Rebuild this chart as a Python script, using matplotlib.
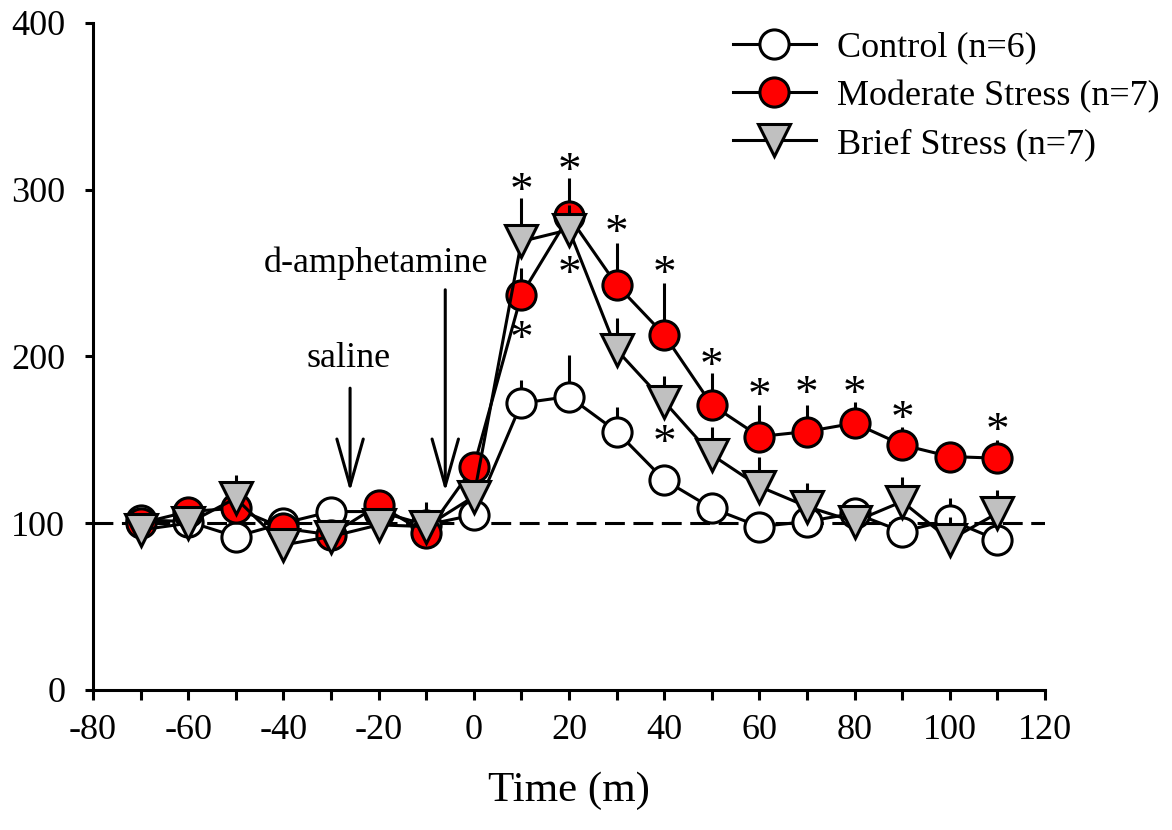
import numpy as np
import matplotlib
matplotlib.use("Agg")
import matplotlib.pyplot as plt

plt.rcParams['font.family'] = ['Liberation Serif', 'DejaVu Serif']
plt.rcParams['axes.unicode_minus'] = False

# time relative to d-amphetamine injection (min)
time = [-70, -60, -50, -40, -30, -20, -10, 0, 10, 20, 30, 40, 50, 60, 70, 80, 90, 100, 110]

# % baseline
control = [102, 101, 92, 100, 107, 107, 99, 105, 172, 176, 155, 126, 109, 98, 101, 106, 95, 102, 90]
moderate = [100, 107, 109, 97, 93, 111, 94, 134, 237, 284, 243, 213, 171, 152, 155, 160, 147, 140, 139]
brief = [96, 100, 115, 87, 92, 99, 98, 116, 269, 276, 204, 173, 141, 122, 110, 101, 113, 90, 106]

# upper error bars only
control_err = [5, 5, 5, 5, 6, 5, 5, 6, 14, 25, 15, 8, 6, 6, 6, 9, 6, 13, 6]
moderate_err = [6, 6, 8, 6, 5, 6, 6, 8, 16, 23, 25, 31, 19, 19, 16, 13, 11, 8, 11]
brief_err = [6, 6, 14, 6, 6, 8, 15, 10, 26, 15, 19, 15, 17, 18, 14, 8, 15, 14, 14]

# significance asterisks
ast_x = [10, 10, 20, 20, 30, 40, 40, 50, 60, 70, 80, 90, 110]
ast_y = [304, 215, 316, 254, 279, 254, 153, 199, 181, 182, 182, 167, 160]

fig = plt.figure(figsize=(11.72, 8.3), dpi=100)
ax = fig.add_axes([0.0794, 0.1687, 0.8122, 0.8036])

ax.plot([-80, 120], [100, 100], color='black', lw=2.2, ls=(0, (6.5, 2.8)), zorder=1)

series = [
    (control, control_err, 'o', 'white', 21, 'Control (n=6)'),
    (moderate, moderate_err, 'o', '#ff0000', 21, 'Moderate Stress (n=7)'),
    (brief, brief_err, 'v', '#c0c0c0', 23, 'Brief Stress (n=7)'),
]
for i, (vals, err, mk, fc, ms, lab) in enumerate(series):
    vals = np.array(vals)
    err = np.array(err)
    ax.errorbar(time, vals, yerr=[np.zeros_like(err), err], fmt='none',
                ecolor='black', elinewidth=2.2, capsize=0, zorder=2 + 2 * i)
    ax.plot(time, vals, color='black', lw=2.2, marker=mk, ms=ms,
            mfc=fc, mec='black', mew=2.2, label=lab, zorder=3 + 2 * i)

# the serif asterisk sits high in its box, so nudge it down a little
for x, y in zip(ast_x, ast_y):
    ax.annotate('*', (x, y), xytext=(0, -7), textcoords='offset points',
                ha='center', va='center', fontsize=34, zorder=10)

# injection arrows
arrow = dict(arrowstyle='->,head_length=1.35,head_width=0.38', lw=2.2,
             color='black', mutation_scale=25, shrinkA=0, shrinkB=0)
ax.annotate('', xy=(-26, 119), xytext=(-26, 181), arrowprops=arrow)
ax.annotate('', xy=(-6, 119), xytext=(-6, 240), arrowprops=arrow)
ax.text(-26.3, 199, 'saline', ha='center', va='center', fontsize=26)
ax.text(-20.6, 256, 'd-amphetamine', ha='center', va='center', fontsize=26)

ax.set_xlim(-80, 120)
ax.set_ylim(0, 400)
ax.set_xticks(np.arange(-80, 121, 20))
ax.set_xticks(np.arange(-70, 121, 20), minor=True)
ax.set_yticks(np.arange(0, 401, 100))
ax.tick_params(axis='both', which='both', direction='out', width=2.2, labelsize=26)
ax.tick_params(axis='x', which='both', length=7, pad=10)
ax.tick_params(axis='y', length=6, pad=14)
for s in ['top', 'right']:
    ax.spines[s].set_visible(False)
for s in ['left', 'bottom']:
    ax.spines[s].set_linewidth(2.2)

ax.set_xlabel('Time (m)', fontsize=31, labelpad=18)

fig.legend(loc='upper left', bbox_to_anchor=(0.625, 0.962), frameon=False,
           fontsize=26, handlelength=2.3, handletextpad=0.6, labelspacing=0.41,
           borderpad=0, borderaxespad=0)

fig.savefig('out.png', dpi=100)
